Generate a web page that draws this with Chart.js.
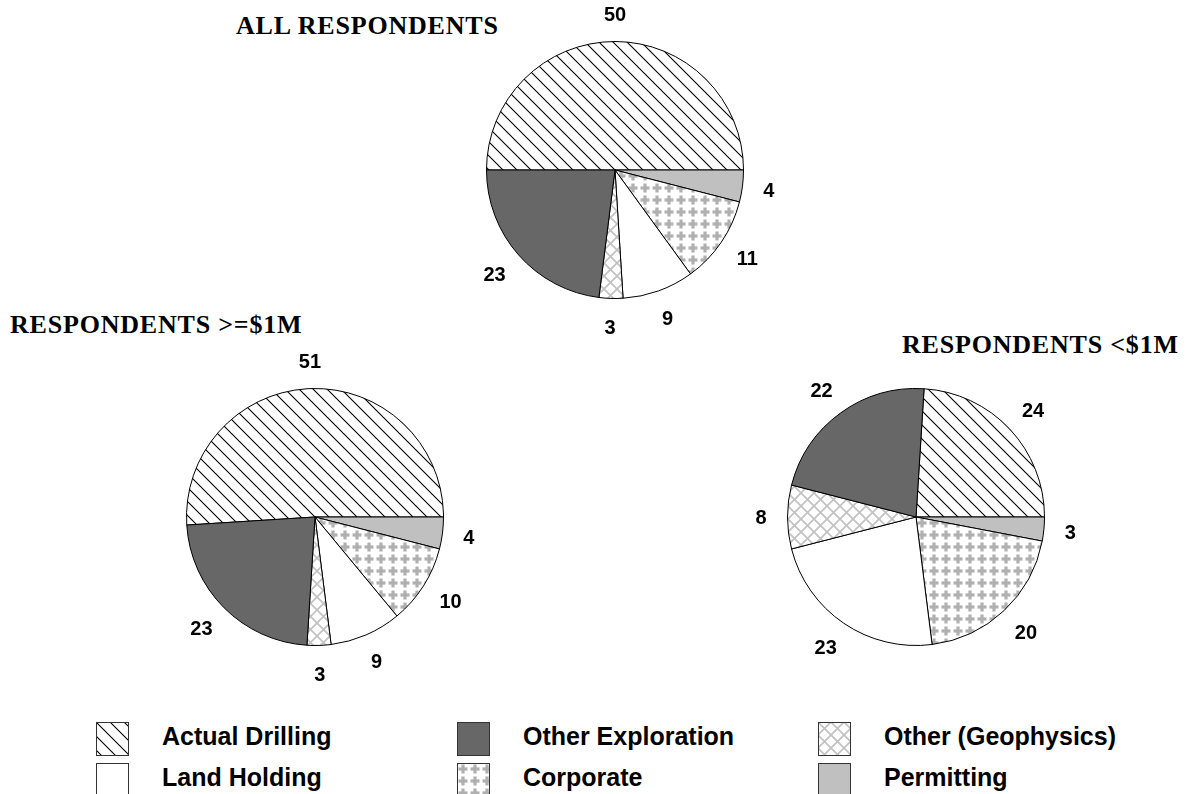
<!DOCTYPE html>
<html>
<head>
<meta charset="utf-8">
<script src="https://cdn.jsdelivr.net/npm/chart.js@4.4.1/dist/chart.umd.min.js"></script>
<style>
  body { margin: 0; background: #fff; overflow: hidden; }
  #page { position: relative; width: 1188px; height: 794px; overflow: hidden; }
  .pie { position: absolute; }
  .title {
    position: absolute; white-space: nowrap;
    font: bold 26px "Liberation Serif", "Times New Roman", serif;
    line-height: 26px; letter-spacing: 0.8px; color: #000;
  }
  .swatch { position: absolute; }
  .key {
    position: absolute; white-space: nowrap;
    font: bold 25px "Liberation Sans", Arial, sans-serif;
    line-height: 25px; color: #000;
  }
</style>
</head>
<body>
<div id="page">
  <div class="title" style="left:236px; top:13px;">ALL RESPONDENTS</div>
  <div class="title" style="left:10px; top:312px;">RESPONDENTS &gt;=$1M</div>
  <div class="title" style="left:902px; top:332px;">RESPONDENTS &lt;$1M</div>

  <canvas id="pieAll" class="pie" width="360" height="360" style="left:435px; top:-10px;"></canvas>
  <canvas id="pieBig" class="pie" width="360" height="360" style="left:135px; top:337px;"></canvas>
  <canvas id="pieSmall" class="pie" width="360" height="360" style="left:736px; top:337px;"></canvas>

  <div id="legend"></div>
</div>

<script>
// slices go clockwise, drilling always ends at 3 o'clock
const categories = ['Actual Drilling', 'Permitting', 'Corporate', 'Land Holding', 'Other (Geophysics)', 'Other Exploration'];
const allRespondents = [50, 4, 11, 9, 3, 23];
const overOneMillion = [51, 4, 10, 9, 3, 23];
const underOneMillion = [24, 3, 20, 23, 8, 22];

// legend reads row by row, three columns
const legendOrder = ['Actual Drilling', 'Other Exploration', 'Other (Geophysics)', 'Land Holding', 'Corporate', 'Permitting'];

// fill patterns
function makeTile(size, draw) {
  const c = document.createElement('canvas');
  c.width = size; c.height = size;
  const g = c.getContext('2d');
  g.fillStyle = '#fff';
  g.fillRect(0, 0, size, size);
  draw(g, size);
  return c;
}

const tiles = {
  'Actual Drilling': makeTile(14, (g, s) => {
    g.strokeStyle = '#000';
    g.lineWidth = 1.1;
    g.beginPath();
    g.moveTo(-1, -1); g.lineTo(s + 1, s + 1);
    g.moveTo(-1, s - 1); g.lineTo(1, s + 1);
    g.moveTo(s - 1, -1); g.lineTo(s + 1, 1);
    g.stroke();
  }),
  'Other (Geophysics)': makeTile(13, (g, s) => {
    g.strokeStyle = '#c2c2c2';
    g.lineWidth = 1.7;
    g.beginPath();
    g.moveTo(-1, -1); g.lineTo(s + 1, s + 1);
    g.moveTo(s + 1, -1); g.lineTo(-1, s + 1);
    g.stroke();
  }),
  'Corporate': makeTile(12, (g, s) => {
    g.fillStyle = '#b0b0b0';
    g.fillRect(1.5, 4.4, 9, 3.2);
    g.fillRect(4.4, 1.5, 3.2, 9);
  })
};

const solid = {
  'Other Exploration': '#676767',
  'Land Holding': '#ffffff',
  'Permitting': '#c0c0c0'
};

function fillFor(ctx, name) {
  if (tiles[name]) return ctx.createPattern(tiles[name], 'repeat');
  return solid[name];
}

// value labels just outside each slice
const outsideLabels = {
  id: 'outsideLabels',
  afterDatasetsDraw(chart) {
    const ctx = chart.ctx;
    const meta = chart.getDatasetMeta(0);
    const values = chart.data.datasets[0].data;
    ctx.save();
    ctx.font = 'bold 20px "Liberation Sans", Arial, sans-serif';
    ctx.fillStyle = '#000';
    ctx.textAlign = 'center';
    ctx.textBaseline = 'alphabetic';
    const h = 14.5;
    meta.data.forEach((arc, i) => {
      const p = arc.getProps(['x', 'y', 'startAngle', 'endAngle', 'outerRadius'], true);
      const mid = (p.startAngle + p.endAngle) / 2;
      const txt = String(values[i]);
      const w = ctx.measureText(txt).width;
      const d = p.outerRadius + 21;
      const cx = p.x + Math.cos(mid) * (d + w / 2);
      const cy = p.y + Math.sin(mid) * (d + h / 2);
      ctx.fillText(txt, cx, cy + h / 2);
    });
    ctx.restore();
  }
};

function drawPie(id, values) {
  const canvas = document.getElementById(id);
  const ctx = canvas.getContext('2d');
  return new Chart(ctx, {
    type: 'pie',
    data: {
      labels: categories,
      datasets: [{
        data: values,
        backgroundColor: categories.map(n => fillFor(ctx, n)),
        borderColor: '#000',
        borderWidth: 1
      }]
    },
    options: {
      responsive: false,
      animation: false,
      rotation: 90 - values[0] * 3.6,
      layout: { padding: 51 },
      plugins: {
        legend: { display: false },
        tooltip: { enabled: false }
      }
    },
    plugins: [outsideLabels]
  });
}

drawPie('pieAll', allRespondents);
drawPie('pieBig', overOneMillion);
drawPie('pieSmall', underOneMillion);

// legend
const legend = document.getElementById('legend');
const colX = [96, 457, 818];
const rowY = [722, 763];
legendOrder.forEach((name, i) => {
  const col = i % 3, row = Math.floor(i / 3);
  const sw = document.createElement('canvas');
  sw.width = 33; sw.height = 34;
  sw.className = 'swatch';
  sw.style.left = colX[col] + 'px';
  sw.style.top = rowY[row] + 'px';
  const g = sw.getContext('2d');
  g.fillStyle = fillFor(g, name);
  g.fillRect(0.5, 0.5, 32, 33);
  g.strokeStyle = '#333';
  g.lineWidth = 1;
  g.strokeRect(0.5, 0.5, 32, 33);
  legend.appendChild(sw);

  const t = document.createElement('div');
  t.className = 'key';
  t.textContent = name;
  t.style.left = (colX[col] + 66) + 'px';
  t.style.top = (rowY[row] + 2) + 'px';
  legend.appendChild(t);
});
</script>
</body>
</html>
